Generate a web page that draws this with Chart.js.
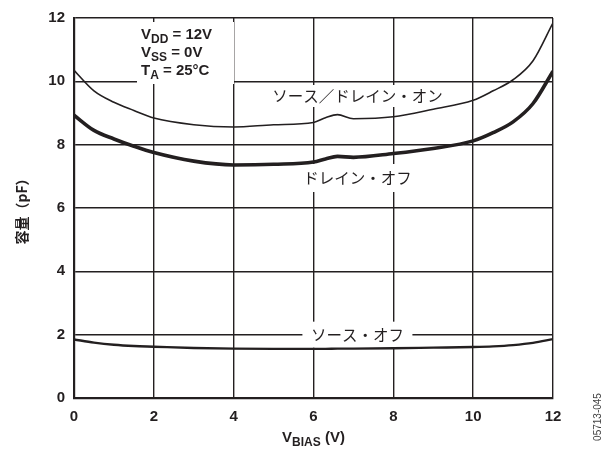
<!DOCTYPE html>
<html>
<head>
<meta charset="utf-8">
<script src="https://cdn.jsdelivr.net/npm/chart.js@4"></script>
<style>
  html, body { margin: 0; padding: 0; background: #fff; }
  #wrap { width: 605px; height: 450px; position: relative; }
</style>
</head>
<body>
<div id="wrap"><canvas id="capChart" width="605" height="450"></canvas></div>
<script>
// VBIAS (V)
const vbias = [0, 0.5, 1, 1.5, 2, 3, 4, 5, 6, 6.3, 6.6, 7, 8, 9, 10, 10.5, 11, 11.5, 12];
// ソース／ドレイン・オン (pF)
const onCap = [10.35, 9.7, 9.34, 9.08, 8.84, 8.63, 8.56, 8.63, 8.7, 8.85, 8.95, 8.82, 8.88, 9.12, 9.4, 9.7, 10.05, 10.65, 11.85];
// ドレイン・オフ (pF)
const drainOff = [8.93, 8.45, 8.18, 7.95, 7.75, 7.48, 7.36, 7.38, 7.45, 7.55, 7.63, 7.6, 7.72, 7.88, 8.12, 8.38, 8.72, 9.3, 10.32];
// ソース・オフ (pF)
const sourceOff = [1.85, 1.75, 1.68, 1.64, 1.62, 1.58, 1.56, 1.55, 1.55, 1.55, 1.56, 1.56, 1.57, 1.59, 1.61, 1.63, 1.67, 1.74, 1.86];

const xTicks = [0, 2, 4, 6, 8, 10, 12];
const yTicks = [0, 2, 4, 6, 8, 10, 12];

const JP = '"Noto Sans CJK JP", sans-serif';
const SANS = '"Liberation Sans", Arial, sans-serif';

function pts(ys) {
  return vbias.map((v, i) => ({ x: v, y: ys[i] }));
}

// 白抜きラベル
function boxLabel(ctx, text, cx, cy, w, h) {
  ctx.fillStyle = '#fff';
  ctx.fillRect(cx - w / 2, cy - h / 2, w, h);
  ctx.fillStyle = '#231f20';
  ctx.font = '15.5px ' + JP;
  ctx.textAlign = 'center';
  ctx.textBaseline = 'middle';
  ctx.fillText(text, cx, cy);
}

// 下付き文字つきテキスト
function subText(ctx, x, y, parts, big, small) {
  let cx = x;
  ctx.textAlign = 'left';
  ctx.textBaseline = 'alphabetic';
  parts.forEach(p => {
    ctx.font = 'bold ' + (p.sub ? small : big) + 'px ' + SANS;
    ctx.fillText(p.t, cx, y + (p.sub ? 4 : 0));
    cx += ctx.measureText(p.t).width;
  });
  return cx - x;
}

const labelsPlugin = {
  id: 'labels',
  beforeDatasetsDraw(chart) {
    const ctx = chart.ctx;
    const xs = chart.scales.x, ys = chart.scales.y;
    ctx.save();
    // 条件ボックス
    ctx.fillStyle = '#fff';
    ctx.fillRect(137, 22, 97, 62);
    ctx.fillStyle = '#231f20';
    subText(ctx, 141, 39, [{ t: 'V' }, { t: 'DD', sub: true }, { t: ' = 12V' }], 15, 12);
    subText(ctx, 141, 57, [{ t: 'V' }, { t: 'SS', sub: true }, { t: ' = 0V' }], 15, 12);
    subText(ctx, 141, 75, [{ t: 'T' }, { t: 'A', sub: true }, { t: ' = 25°C' }], 15, 12);

    boxLabel(ctx, 'ソース／ドレイン・オン', xs.getPixelForValue(7.1), 96, 186, 22);
    boxLabel(ctx, 'ドレイン・オフ', xs.getPixelForValue(7.1), 178, 120, 28);
    boxLabel(ctx, 'ソース・オフ', xs.getPixelForValue(7.1), ys.getPixelForValue(2), 110, 26);
    ctx.restore();
  },
  afterDraw(chart) {
    const ctx = chart.ctx;
    const area = chart.chartArea;
    ctx.save();
    ctx.fillStyle = '#231f20';
    // X軸タイトル
    ctx.font = 'bold 15px ' + SANS;
    let w = ctx.measureText('V').width + ctx.measureText(' (V)').width;
    ctx.font = 'bold 12px ' + SANS;
    w += ctx.measureText('BIAS').width;
    const cx = (area.left + area.right) / 2;
    subText(ctx, cx - w / 2, 442, [{ t: 'V' }, { t: 'BIAS', sub: true }, { t: ' (V)' }], 15, 12);

    // Y軸タイトル
    ctx.translate(22, (area.top + area.bottom) / 2);
    ctx.rotate(-Math.PI / 2);
    ctx.font = 'bold 14px ' + JP;
    ctx.textAlign = 'center';
    ctx.textBaseline = 'middle';
    ctx.fillText('容量（pF）', 0, 0);
    ctx.restore();

    // 図番号
    ctx.save();
    ctx.translate(598, 417);
    ctx.rotate(-Math.PI / 2);
    ctx.font = '10px ' + SANS;
    ctx.fillStyle = '#444';
    ctx.textAlign = 'center';
    ctx.textBaseline = 'middle';
    ctx.fillText('05713-045', 0, 0);
    ctx.restore();
  }
};

const ctx = document.getElementById('capChart').getContext('2d');
new Chart(ctx, {
  type: 'line',
  data: {
    datasets: [
      { label: 'ソース／ドレイン・オン', data: pts(onCap), borderColor: '#231f20', borderWidth: 1.6 },
      { label: 'ドレイン・オフ', data: pts(drainOff), borderColor: '#231f20', borderWidth: 3.6 },
      { label: 'ソース・オフ', data: pts(sourceOff), borderColor: '#231f20', borderWidth: 2.4 }
    ]
  },
  options: {
    responsive: false,
    animation: false,
    devicePixelRatio: 1,
    cubicInterpolationMode: 'monotone',
    elements: { point: { radius: 0 } },
    layout: { padding: { top: 15, right: 52, left: 0, bottom: 0 } },
    plugins: { legend: { display: false }, tooltip: { enabled: false } },
    scales: {
      x: {
        type: 'linear',
        min: 0, max: 12,
        afterBuildTicks: s => { s.ticks = xTicks.map(v => ({ value: v })); },
        afterFit: s => { s.height = 52; },
        grid: { color: '#231f20', lineWidth: 1.4, drawTicks: false },
        border: { color: '#231f20', width: 2.2 },
        ticks: { color: '#231f20', padding: 10, font: { family: SANS, size: 15, weight: 'bold' }, maxRotation: 0 }
      },
      y: {
        min: 0, max: 12,
        afterBuildTicks: s => { s.ticks = yTicks.map(v => ({ value: v })); },
        afterFit: s => { s.width = 74; },
        grid: { color: '#231f20', lineWidth: 1.4, drawTicks: false },
        border: { color: '#231f20', width: 2.2 },
        ticks: { color: '#231f20', padding: 9, font: { family: SANS, size: 15, weight: 'bold' } }
      }
    }
  },
  plugins: [labelsPlugin]
});
</script>
</body>
</html>
